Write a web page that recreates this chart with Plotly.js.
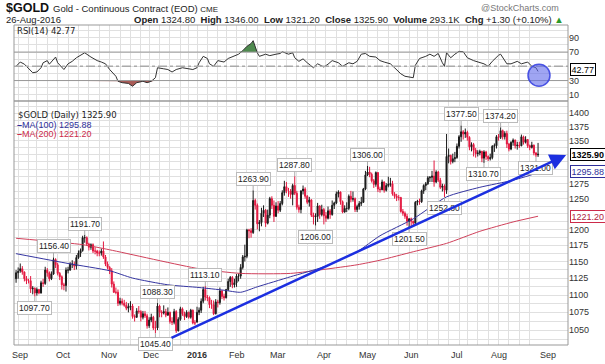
<!DOCTYPE html>
<html><head><meta charset="utf-8">
<script src="https://cdn.plot.ly/plotly-3.0.1.min.js"></script>
<style>html,body{margin:0;padding:0;background:#fff;}#chart{width:605px;height:364px;}</style>
</head><body><div id="chart"></div>
<script>
// ---- trading days (categories) ----
const monthDays = [
 ['2015-08',[28,31]],
 ['2015-09',[1,2,3,4,8,9,10,11,14,15,16,17,18,21,22,23,24,25,28,29,30]],
 ['2015-10',[1,2,5,6,7,8,9,12,13,14,15,16,19,20,21,22,23,26,27,28,29,30]],
 ['2015-11',[2,3,4,5,6,9,10,11,12,13,16,17,18,19,20,23,24,25,27,30]],
 ['2015-12',[1,2,3,4,7,8,9,10,11,14,15,16,17,18,21,22,23,24,28,29,30,31]],
 ['2016-01',[4,5,6,7,8,11,12,13,14,15,19,20,21,22,25,26,27,28,29]],
 ['2016-02',[1,2,3,4,5,8,9,10,11,12,16,17,18,19,22,23,24,25,26,29]],
 ['2016-03',[1,2,3,4,7,8,9,10,11,14,15,16,17,18,21,22,23,24,28,29,30,31]],
 ['2016-04',[1,4,5,6,7,8,11,12,13,14,15,18,19,20,21,22,25,26,27,28,29]],
 ['2016-05',[2,3,4,5,6,9,10,11,12,13,16,17,18,19,20,23,24,25,26,27,31]],
 ['2016-06',[1,2,3,6,7,8,9,10,13,14,15,16,17,20,21,22,23,24,27,28,29,30]],
 ['2016-07',[1,5,6,7,8,11,12,13,14,15,18,19,20,21,22,25,26,27,28,29]],
 ['2016-08',[1,2,3,4,5,8,9,10,11,12,15,16,17,18,19,22,23,24,25,26]]
];
const monthLabels = ['', 'Sep','Oct','Nov','Dec','<b>2016</b>','Feb','Mar','Apr','May','Jun','Jul','Aug'];
const nextMonthLabel = 'Sep';

// ---- daily OHLC ----
const openP = [
 1124,1133,
 1136,1139,1134,1124,1121,1121,1109,1110,1103,1108,1103,1118,1117,1137,1133,1124,1131,1153,1145,1132,1127,
 1115,1114,1137,1137,1146,1146,1143,1156,1163,1167,1187,1187,1177,1172,1176,1166,1166,1163,1163,1166,1157,1146,
 1141,1136,1116,1104,1104,1088,1091,1088,1085,1081,1083,1084,1069,1068,1077,1076,1068,1073,1070,1056,
 1064,1068,1053,1053,1084,1075,1074,1076,1071,1075,1062,1061,1076,1049,1065,1080,1073,1069,1075,1068,1078,1060,
 1061,1075,1078,1091,1108,1097,1096,1086,1086,1073,1090,1089,1106,1098,1096,1108,1120,1126,1115,
 1118,1128,1128,1141,1157,1158,1199,1198,1195,1247,1239,1209,1211,1226,1231,1210,1223,1250,1239,1221,
 1238,1231,1242,1260,1270,1263,1263,1257,1272,1259,1236,1232,1263,1266,1254,1244,1248,1223,1220,1221,1238,1224,
 1232,1222,1218,1230,1224,1239,1243,1258,1261,1245,1228,1234,1234,1254,1249,1250,1232,1237,1242,1244,1266,
 1290,1295,1291,1280,1274,1294,1266,1265,1278,1264,1272,1274,1275,1258,1254,1252,1252,1229,1226,1221,1213,
 1217,1213,1210,1244,1246,1245,1263,1272,1275,1285,1286,1288,1278,1295,1281,1269,1271,1264,1322,1324,1313,1318,
 1320,1340,1357,1366,1362,1365,1356,1339,1343,1333,1327,1328,1331,1319,1330,1322,1318,1320,1340,1341,
 1357,1356,1368,1357,1363,1344,1335,1347,1351,1341,1342,1341,1357,1347,1352,1341,1338,1342,1328,1324.8
];
const highP = [
 1137,1141,
 1147,1143,1135,1128,1124,1128,1113,1111,1111,1109,1121,1124,1142,1140,1135,1135,1156.4,1155,1148,1134,1129,
 1118,1141,1142,1149,1152,1150,1160,1167,1170,1190,1191.7,1189,1179,1178,1178,1172,1168,1167,1170,1181,1160,1150,
 1143,1140,1120,1111,1108,1096,1095,1093,1090,1088,1091,1087,1072,1081,1084,1078,1077,1077,1073,1068,
 1073,1070,1063,1088.3,1086,1078,1085,1080,1082,1076,1068,1080,1078,1068,1083,1082,1076,1078,1076,1080,1079,1064,
 1083,1082,1095,1112,1113.1,1100,1098,1093,1092,1094,1093,1111,1107,1102,1109,1124,1128,1128,1124,
 1131,1132,1146,1160,1176,1201,1201,1202,1263.9,1250,1242,1215,1235,1239,1233,1232,1253,1254,1247,1244,
 1246,1246,1264,1280,1278,1268,1266,1275,1287.8,1263,1240,1264,1272,1269,1256,1253,1249,1227,1226,1243,1239,1240,
 1235,1228,1237,1233,1247,1245,1262,1264,1262,1247,1239,1244,1257,1263,1262,1252,1240,1246,1253,1268,1297,
 1306,1304,1294,1283,1296,1295,1270,1282,1279,1276,1287,1285,1280,1261,1258,1256,1253,1233,1229,1225,1218,
 1219,1214,1246,1248,1250,1265,1274,1278,1288,1288,1297,1315,1298,1297,1285,1275,1274,1362,1336,1325,1327,1330,
 1345,1360,1377.5,1369,1372,1368,1358,1347,1346,1337,1333,1334,1332,1333,1332,1324,1327,1342,1345,1360,
 1362,1374.2,1370,1367,1368,1346,1349,1354,1352,1348,1348,1361,1359,1358,1353,1343,1348,1343,1330,1346
];
const lowP = [
 1118,1124,
 1133,1130,1120,1116,1117,1103,1101,1097.7,1099,1101,1102,1112,1115,1127,1120,1122,1130,1140,1129,1122,1108,
 1107,1105,1132,1136,1140,1137,1138,1154,1157,1165,1179,1174,1167,1168,1163,1161,1158,1158,1159,1154,1143,1138,
 1131,1111,1103,1101,1084,1085,1085,1083,1078,1075,1078,1066,1062,1067,1073,1062,1065,1067,1052,1053,
 1061,1050,1045.4,1050,1068,1068,1072,1068,1070,1059,1057,1058,1046,1048,1063,1070,1064,1067,1066,1066,1058,1057,
 1061,1071,1074,1088,1092,1091,1081,1080,1071,1072,1082,1086,1094,1092,1095,1106,1112,1110,1111,
 1112,1120,1124,1138,1150,1155,1186,1187,1193,1232,1200,1197,1205,1220,1204,1208,1218,1233,1212,1220,
 1226,1228,1239,1255,1259,1253,1250,1239,1256,1232,1227,1226,1257,1250,1241,1237,1220,1208,1206,1212,1217,1221,
 1208,1212,1216,1217,1222,1233,1241,1252,1240,1226,1227,1228,1231,1244,1245,1228,1228,1232,1238,1243,1264,
 1288,1286,1277,1268,1270,1261,1260,1264,1260,1262,1269,1270,1255,1250,1246,1247,1227,1222,1217,1206,1201.5,
 1205,1204,1208,1239,1240,1243,1258,1264,1273,1278,1278,1270,1276,1278,1266,1262,1252.8,1258,1310,1308,1310,1312,
 1318,1336,1348,1352,1355,1350,1333,1331,1322,1320,1322,1324,1312,1310.7,1316,1314,1315,1317,1330,1336,
 1350,1353,1352,1352,1337,1331,1333,1341,1336,1334,1337,1340,1343,1345,1337,1333,1336,1324,1321,1321.2
];
const closeP = [
 1133,1135,
 1139,1134,1124,1121,1121,1109,1110,1103,1108,1103,1118,1117,1137,1133,1124,1131,1153,1145,1132,1127,1115,
 1114,1137,1137,1146,1146,1143,1156,1163,1167,1187,1187,1177,1172,1176,1166,1166,1163,1163,1166,1157,1146,1141,
 1136,1116,1104,1104,1088,1091,1088,1085,1081,1083,1084,1069,1068,1077,1076,1068,1073,1070,1056,1064,
 1068,1053,1053,1084,1075,1074,1076,1071,1075,1062,1061,1076,1049,1065,1080,1073,1069,1075,1068,1078,1060,1060,
 1075,1078,1091,1108,1097,1096,1086,1086,1073,1090,1089,1106,1098,1096,1108,1120,1126,1115,1118,
 1128,1128,1141,1157,1158,1199,1198,1195,1247,1239,1209,1211,1226,1231,1210,1223,1250,1239,1221,1238,
 1231,1242,1260,1270,1263,1263,1257,1272,1259,1236,1232,1263,1266,1254,1244,1248,1223,1220,1221,1238,1224,1232,
 1222,1218,1230,1224,1239,1243,1258,1261,1245,1228,1234,1234,1254,1249,1250,1232,1237,1242,1244,1266,1290,
 1295,1291,1280,1274,1294,1266,1265,1278,1264,1272,1274,1275,1258,1254,1252,1252,1229,1226,1221,1213,1217,
 1213,1210,1244,1246,1245,1263,1272,1275,1285,1286,1288,1278,1295,1281,1269,1271,1264,1322,1324,1313,1318,1320,
 1340,1357,1366,1362,1365,1356,1339,1343,1333,1327,1328,1331,1319,1330,1322,1318,1320,1340,1341,1357,
 1356,1368,1357,1363,1344,1335,1347,1351,1341,1342,1341,1357,1347,1352,1341,1338,1342,1328,1324.6,1325.9
];

// ---- indicators (trading-day index, value) ----
const rsiIdx = [0,2,4,7,8,10,12,13,15,16, 19,20,23,25,27,29,32,33,36,39, 41,43,45,48,49,51,54,56,58,60,
 61,63,65,67,68,71,73,75,77,80, 82,85,87,88,90,92,93,95,97,100, 102,104,107,109,111,113,114,116,117,120,
 122,125,127,128,131,133,134,136,138,140, 143,145,148,150,152,155,157,160,162,164, 166,168,170,173,175,177,180,182,185,187,
 189,191,192,194,197,199,201,203,205,206, 207,209,211,213,215,217,220,222,225,227, 229,232,233,236,238,241,243,246,248,250, 251];
const rsiVal = [50,56,53,44,41,42,48,55,58,53, 63,55,45.5,53.5,57,62,67,69,63,58, 56,53.5,45.5,36,29,27,26,22,27,28,
 29,27,29,34,48,46.5,45.5,42,45.5,48, 47,45.5,48,55,64,61,53.5,50,58,56, 61,63,67,72,78,82,86,69,64,67,
 65,67,68,70.5,67,69,62,57,60.5,55, 48,53.5,49,53,58,55,50,55,53.5,57, 67,68,64,63,58,56,53.5,48,39.5,36,
 35,34,51.5,61,64,67,64,68,55,50, 69,62,67,71,70.5,62,58,56,53.5,50, 57,65.5,67,53.5,53.5,57,53.5,56,50,48, 42.77];
const ma100Idx = [0,25,45,56,73,88,100,108,116,132,148,164,175,191,207,223,239,250,251];
const ma100Val = [1162,1147,1136,1125,1115,1111,1107,1104,1112,1127,1142,1165,1190,1217,1253,1269,1281,1293,1295.88];
const ma200Idx = [0,32,45,88,108,132,148,164,175,191,207,223,239,251];
const ma200Val = [1186,1176,1168,1139,1132,1132,1138,1145,1152,1165,1178,1197,1212,1221.2];

// ---- labelled swing points ----
const labelDates = ['2015-09-11','2015-09-24','2015-10-15','2015-12-03','2015-12-04','2016-01-08','2016-02-11','2016-03-11',
 '2016-03-28','2016-05-02','2016-05-31','2016-06-23','2016-07-06','2016-07-21','2016-08-02','2016-08-25'];
const labelPrices = [1097.70,1156.40,1191.70,1045.40,1088.30,1113.10,1263.90,1287.80,1206.00,1306.00,1201.50,1252.80,1377.50,1310.70,1374.20,1321.00];
const labelAbove = [false,true,true,false,true,true,true,true,false,true,false,false,true,false,true,false];

// trend line drawn on the chart: [trading-day index, price]
const trendStart = [74.0, 1038.3];
const trendEnd = [264.5, 1324.4];

const lastClose = 1325.90, lastMA100 = 1295.88, lastMA200 = 1221.20, lastRSI = 42.77;
// axis labels hidden behind the value boxes on the right edge
const hiddenTicks = [1325, 1300, 1225];

// ---- build ----
const dates = [];
const monthStarts = [];
monthDays.forEach(([ym, days], mi) => {
  days.forEach((d, k) => {
    const s = ym + '-' + String(d).padStart(2, '0');
    if (k === 0 && mi > 0) monthStarts.push(s);
    dates.push(s);
  });
});
const wd = s => new Date(s + 'T00:00:00Z').getUTCDay();
const weekStarts = dates.filter((s, i) => i > 0 && wd(s) < wd(dates[i - 1]));

const rsiX = rsiIdx.map(i => dates[i]);
const lg = Math.log10;

const traces = [
  {type:'scatter', mode:'lines', x:rsiX, y:rsiX.map(() => 70), xaxis:'x', yaxis:'y', line:{width:0}, hoverinfo:'skip'},
  {type:'scatter', mode:'lines', x:rsiX, y:rsiVal.map(v => Math.max(v, 70)), xaxis:'x', yaxis:'y', line:{width:0}, fill:'tonexty', fillcolor:'#4e8a4e', hoverinfo:'skip'},
  {type:'scatter', mode:'lines', x:rsiX, y:rsiX.map(() => 30), xaxis:'x', yaxis:'y', line:{width:0}, hoverinfo:'skip'},
  {type:'scatter', mode:'lines', x:rsiX, y:rsiVal.map(v => Math.min(v, 30)), xaxis:'x', yaxis:'y', line:{width:0}, fill:'tonexty', fillcolor:'#a85a55', hoverinfo:'skip'},
  {type:'scatter', mode:'lines', x:rsiX, y:rsiVal, xaxis:'x', yaxis:'y', line:{color:'#333', width:1}, hoverinfo:'skip'},
  {type:'scatter', mode:'lines', x:ma200Idx.map(i => dates[i]), y:ma200Val, xaxis:'x', yaxis:'y2', line:{color:'#d0405a', width:1, shape:'spline', smoothing:0.6}, hoverinfo:'skip'},
  {type:'scatter', mode:'lines', x:ma100Idx.map(i => dates[i]), y:ma100Val, xaxis:'x', yaxis:'y2', line:{color:'#3434a0', width:1, shape:'spline', smoothing:0.6}, hoverinfo:'skip'},
  {type:'candlestick', x:dates, open:openP, high:highP, low:lowP, close:closeP, xaxis:'x', yaxis:'y2', whiskerwidth:0,
   increasing:{line:{color:'#1a1a1a', width:1}, fillcolor:'#1a1a1a'},
   decreasing:{line:{color:'#e3173f', width:1}, fillcolor:'#e3173f'}, hoverinfo:'skip'}
];

// price gridlines every 12.5, labels every 25
const priceGrid = [], priceText = [];
for (let v = 1037.5; v <= 1412.5; v += 12.5) {
  priceGrid.push(v);
  priceText.push(v % 25 === 0 && !hiddenTicks.includes(v) ? String(v) : '');
}
const rsiGrid = [10,20,30,40,50,60,70,80,90,100];
const rsiText = ['10','','30','','','','70','','90',''];   // 50 sits behind the RSI value box

const T = 25, B = 19, H = 364, PH = H - T - B, L = 14, R = 37, PW = 605 - L - R;
const py = p => (H - B - p) / PH;   // pixel y -> paper
const px = p => (p - L) / PW;       // pixel x -> paper
const split = py(101);

const ann = [];
// header
ann.push({xref:'paper', yref:'paper', x:px(5), y:py(7.5), xanchor:'left', yanchor:'middle', showarrow:false, borderpad:0,
  text:'<b>$GOLD</b>', font:{family:'Liberation Sans, Arial', size:12.5, color:'#111'}});
ann.push({xref:'paper', yref:'paper', x:px(52), y:py(8.5), xanchor:'left', yanchor:'middle', showarrow:false, borderpad:0,
  text:'Gold - Continuous Contract (EOD) <span style="font-size:8px">CME</span>', font:{family:'Liberation Sans, Arial', size:9.5, color:'#222'}});
ann.push({xref:'paper', yref:'paper', x:px(560), y:py(8), xanchor:'right', yanchor:'middle', showarrow:false, borderpad:0,
  text:'@StockCharts.com', font:{family:'Liberation Sans, Arial', size:9, color:'#777'}});
ann.push({xref:'paper', yref:'paper', x:px(5), y:py(19.3), xanchor:'left', yanchor:'middle', showarrow:false, borderpad:0,
  text:'26-Aug-2016', font:{family:'Liberation Sans, Arial', size:9.5, color:'#222'}});
ann.push({xref:'paper', yref:'paper', x:px(565), y:py(19.3), xanchor:'right', yanchor:'middle', showarrow:false, borderpad:0,
  text:'<b>Open</b> 1324.80  <b>High</b> 1346.00  <b>Low</b> 1321.20  <b>Close</b> 1325.90  <b>Volume</b> 293.1K  <b>Chg</b> +1.30 (+0.10%) <span style="color:#2a9a2a">▲</span>',
  font:{family:'Liberation Sans, Arial', size:9.5, color:'#222'}});
// panel legends
ann.push({xref:'paper', yref:'paper', x:px(16), y:py(31), xanchor:'left', yanchor:'middle', showarrow:false, borderpad:0,
  text:'RSI(14) ' + lastRSI.toFixed(2), font:{family:'DejaVu Sans, Verdana', size:8.5, color:'#222'}});
ann.push({xref:'paper', yref:'paper', x:px(16), y:py(115), xanchor:'left', yanchor:'middle', showarrow:false,
  text:'$GOLD (Daily) ' + lastClose.toFixed(2), font:{family:'DejaVu Sans, Verdana', size:8.5, color:'#222'}});
ann.push({xref:'paper', yref:'paper', x:px(15), y:py(124.5), xanchor:'left', yanchor:'middle', showarrow:false,
  text:'<b>–</b>MA(100) ' + lastMA100.toFixed(2), font:{family:'Liberation Sans, Arial', size:9, color:'#2e2e9a'}});
ann.push({xref:'paper', yref:'paper', x:px(15), y:py(134), xanchor:'left', yanchor:'middle', showarrow:false,
  text:'<b>–</b>MA(200) ' + lastMA200.toFixed(2), font:{family:'Liberation Sans, Arial', size:9, color:'#cc2a4a'}});
// month labels
monthStarts.forEach((d, i) => {
  ann.push({xref:'x', yref:'paper', x:d, y:py(355), xanchor:'center', yanchor:'middle', showarrow:false,
    text:monthLabels[i + 1], font:{family:'Liberation Sans, Arial', size:9, color:'#333'}});
});
ann.push({xref:'x', yref:'paper', x:dates.length + 4, y:py(355), xanchor:'center', yanchor:'middle', showarrow:false,
  text:nextMonthLabel, font:{family:'Liberation Sans, Arial', size:9, color:'#333'}});
// swing-point labels
labelDates.forEach((d, i) => {
  ann.push({xref:'x', yref:'y2', x:d, y:lg(labelPrices[i]), text:labelPrices[i].toFixed(2), showarrow:true,
    arrowhead:0, arrowwidth:1, arrowcolor:'#aaa', ax:0, ay:labelAbove[i] ? -11 : 11, standoff:0,
    bordercolor:'#bbb', borderwidth:1, borderpad:1, bgcolor:'#fff',
    font:{family:'Liberation Sans, Arial', size:8.5, color:'#222'}});
});
// trend line arrow
ann.push({xref:'x', yref:'y2', x:trendEnd[0], y:lg(trendEnd[1]), axref:'x', ayref:'y2', ax:trendStart[0], ay:lg(trendStart[1]),
  text:'', showarrow:true, arrowhead:2, arrowsize:1.3, arrowwidth:2.5, arrowcolor:'#1c2fe0', standoff:0});
// right-edge value boxes
const box = (yref, y, text, col, tcol, ys) => ({xref:'paper', yref, x:1, xshift:2, y, yshift:ys || 0, xanchor:'left', yanchor:'middle', showarrow:false,
  text, bordercolor:col, borderwidth:1, borderpad:0.5, bgcolor:'#fff', font:{family:'Liberation Sans, Arial', size:9, color:tcol}});
ann.push(box('y2', lg(lastMA200), lastMA200.toFixed(2), '#cc2a4a', '#b02040'));
ann.push(box('y2', lg(lastMA100), lastMA100.toFixed(2), '#2e2e9a', '#2e2e9a'));
ann.push(box('y2', lg(lastClose), '<b>' + lastClose.toFixed(2) + '</b>', '#000', '#000'));
ann.push(box('y', lastRSI, lastRSI.toFixed(2), '#000', '#000', 1.5));

const shapes = [
  {type:'line', xref:'paper', yref:'y', x0:0, x1:1, y0:70, y1:70, line:{color:'#999', width:1}},
  {type:'line', xref:'paper', yref:'y', x0:0, x1:1, y0:30, y1:30, line:{color:'#999', width:1}},
  {type:'line', xref:'paper', yref:'y', x0:0, x1:1, y0:50, y1:50, line:{color:'#aaa', width:1.5, dash:'dashdot'}},
  {type:'rect', xref:'paper', yref:'paper', x0:0, x1:1, y0:split, y1:1, line:{color:'#999', width:1}},
  {type:'rect', xref:'paper', yref:'paper', x0:0, x1:1, y0:0, y1:split, line:{color:'#999', width:1}},
  {type:'circle', xref:'paper', yref:'paper', x0:px(528), x1:px(550), y0:py(86.3), y1:py(64.3),
   fillcolor:'rgba(95,105,235,0.6)', line:{color:'rgba(60,70,225,0.9)', width:1.5}}
];

const layout = {
  width:605, height:364, margin:{l:L, r:R, t:T, b:B}, paper_bgcolor:'#fff', plot_bgcolor:'#fff', showlegend:false,
  font:{family:'Liberation Sans, Arial, sans-serif', size:9, color:'#333'},
  xaxis:{type:'category', categoryorder:'array', categoryarray:dates, range:[-1, 265.4], anchor:'y2',
    tickmode:'array', tickvals:weekStarts, ticktext:weekStarts.map(() => ''), showticklabels:false, ticks:'',
    showgrid:true, gridcolor:'#e0e0e0', gridwidth:1, zeroline:false, showline:false, rangeslider:{visible:false}, fixedrange:true},
  yaxis:{domain:[split, 1], range:[1.3, 108], side:'right', anchor:'x', tickmode:'array', tickvals:rsiGrid, ticktext:rsiText,
    gridcolor:'#e0e0e0', zeroline:false, ticks:'', showline:false, tickfont:{size:9, color:'#333'}, fixedrange:true},
  yaxis2:{domain:[0, split], type:'log', range:[3.01258, 3.15320], side:'right', anchor:'x', tickmode:'array',
    tickvals:priceGrid, ticktext:priceText, gridcolor:'#e0e0e0', zeroline:false, ticks:'', showline:false,
    tickfont:{size:9, color:'#333'}, fixedrange:true},
  annotations:ann, shapes:shapes
};

Plotly.newPlot('chart', traces, layout, {staticPlot:true, displayModeBar:false});
</script></body></html>
